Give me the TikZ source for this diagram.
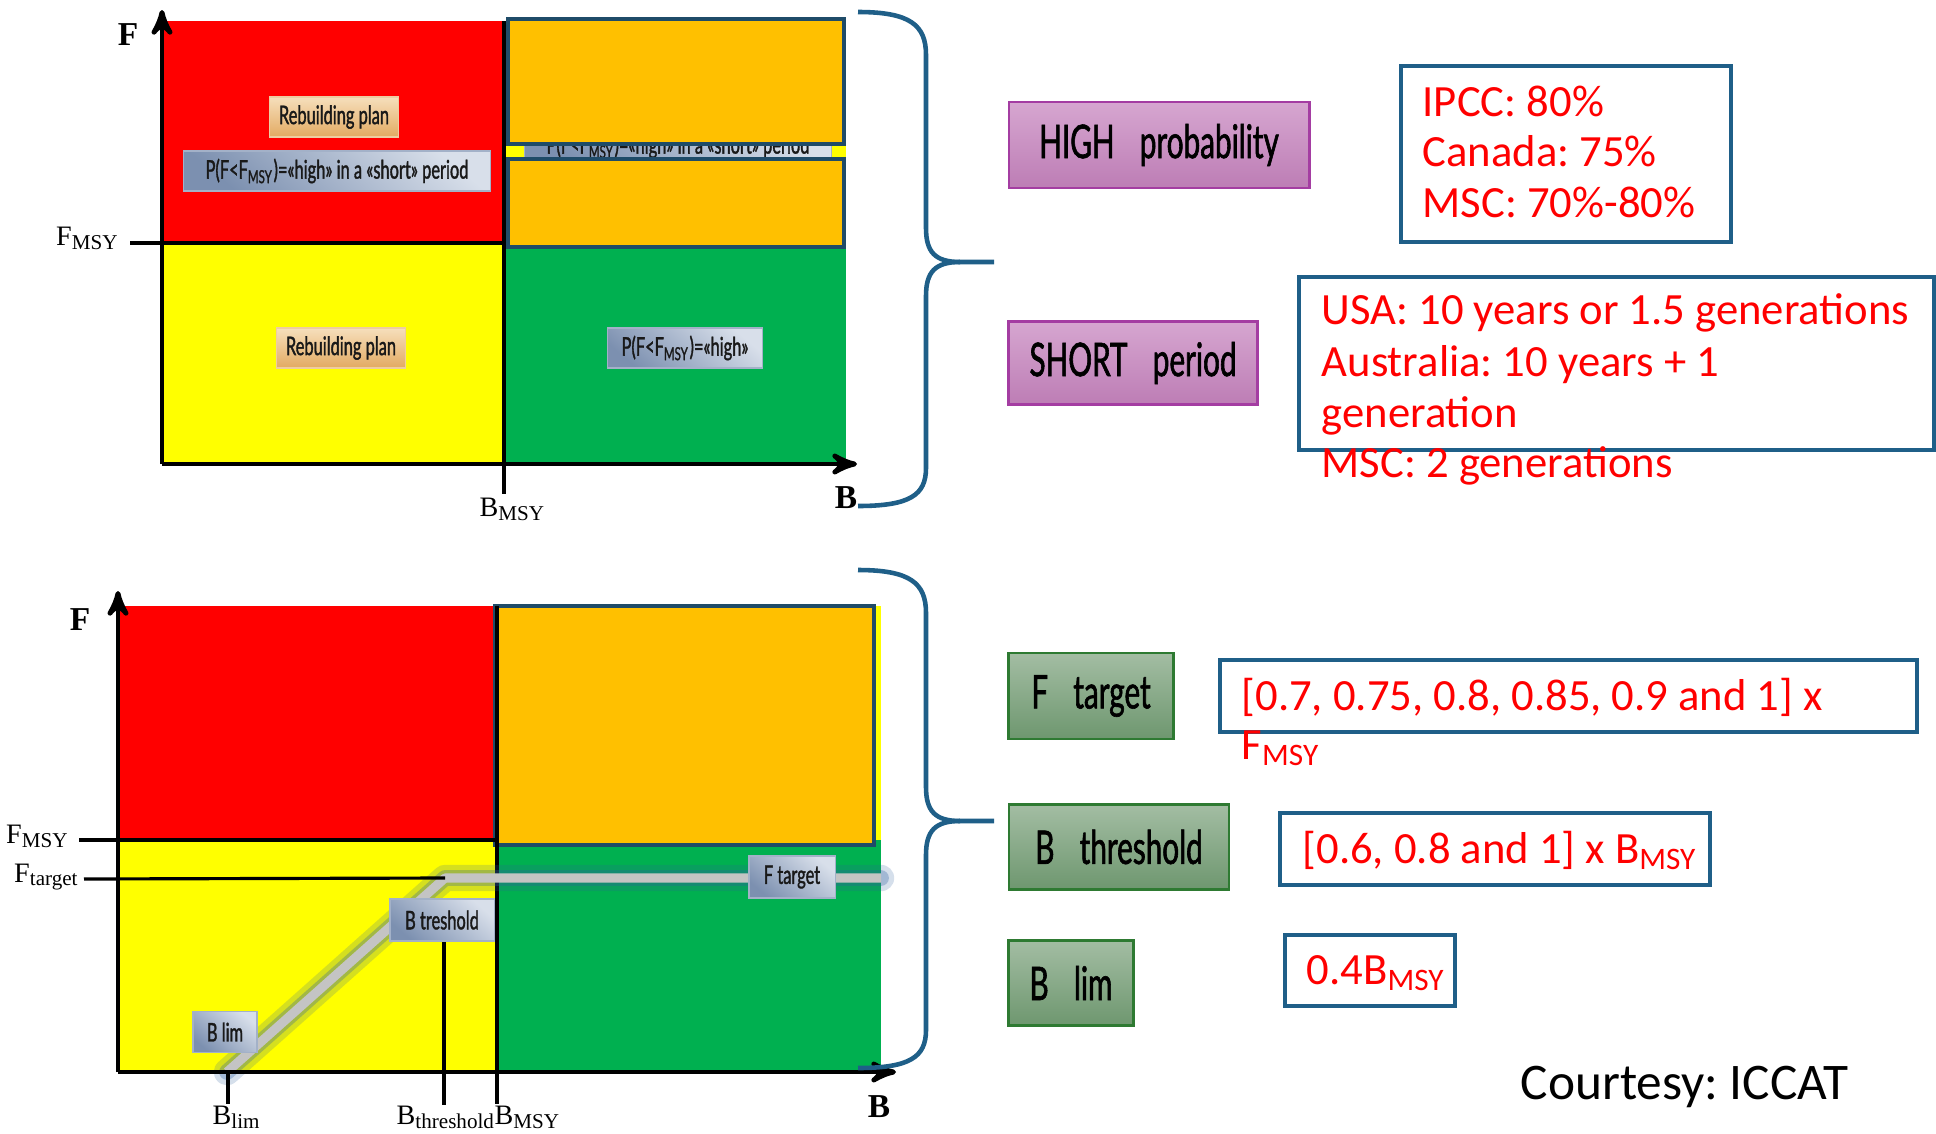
\documentclass[tikz,border=0pt]{standalone}
\usepackage{fontspec}
\usepackage{xcolor}
\usepackage{tikz}
\usetikzlibrary{arrows}
\frenchspacing
\newfontfamily\gillfont[FakeStretch=0.64,FakeBold=1.3]{Lato}
\newfontfamily\valfont{Carlito}
\newfontfamily\axfont{Liberation Serif}
\definecolor{zred}{HTML}{FF0000}
\definecolor{zyellow}{HTML}{FFFF00}
\definecolor{zgreen}{HTML}{00B050}
\definecolor{zorange}{HTML}{FFC000}
\definecolor{boxblue}{HTML}{1F5F88}
\definecolor{coverblue}{HTML}{1F4B68}
\definecolor{purpletop}{HTML}{D6A6D0}
\definecolor{purplebot}{HTML}{BD7DB5}
\definecolor{purpleline}{HTML}{A43DA2}
\definecolor{greentop}{HTML}{A3BDA3}
\definecolor{greenbot}{HTML}{6E976F}
\definecolor{greenline}{HTML}{2E7A32}
\definecolor{tanbot}{HTML}{E2AA62}
\definecolor{tantop}{HTML}{F6DFBC}
\definecolor{slatedark}{HTML}{7C90B0}
\definecolor{slatelight}{HTML}{D8DFEA}
\definecolor{hcrgrey}{HTML}{C4C4C4}
\definecolor{glowblue}{HTML}{2F5F9F}

\begin{document}
\begin{tikzpicture}[x=0.01cm,y=-0.01cm,
  axis/.style={line width=1.4pt,->,>=stealth'},
  refline/.style={line width=0.9pt},
  cover/.style={fill=zorange,draw=coverblue,line width=0.9pt},
  tanlab/.style={top color=tantop,bottom color=tanbot,draw=tanbot!60,line width=0.3pt,inner sep=0pt,font=\gillfont\fontsize{7.3}{8}\selectfont,text=black!90},
  slatelab/.style={top color=slatelight,bottom color=slatedark,shading angle=-40,draw=slatedark!70,line width=0.3pt,inner sep=0pt,font=\gillfont\fontsize{7.3}{8}\selectfont,text=black!90},
  highlab/.style={top color=purpletop,bottom color=purplebot,draw=purpleline,line width=0.8pt,inner sep=0pt,font=\gillfont\fontsize{13.2}{15}\selectfont},
  reflab/.style={top color=greentop,bottom color=greenbot,draw=greenline,line width=0.8pt,inner sep=0pt,font=\gillfont\fontsize{13.2}{15}\selectfont},
  valbox/.style={draw=boxblue,line width=1pt},
  valtext/.style={anchor=base west,inner sep=0pt,text=red,font=\valfont\fontsize{12.7}{14}\selectfont},
  axlab/.style={inner sep=0pt,font=\axfont\bfseries\fontsize{9.5}{11}\selectfont},
  sublab/.style={inner sep=0pt,font=\axfont\fontsize{8}{9}\selectfont},
  brace/.style={draw=boxblue,line width=1.3pt}
]
\useasboundingbox (0,0) rectangle (1936,1133);
\fill[white] (0,0) rectangle (1936,1133);

\fill[zred]    (162,21)  rectangle (504,243);
\fill[zyellow] (162,243) rectangle (504,464);
\fill[zgreen]  (504,243) rectangle (846,464);
\fill[zyellow] (504,21)  rectangle (846,243);
\draw[refline] (130,243) -- (504,243);
\draw[refline] (504,21) -- (504,494);
\draw[axis] (162,464) -- (162,10);
\draw[axis] (162,464) -- (857,464);
\node[axlab, anchor=base] (F1) at (128,45) {F};
\node[axlab, anchor=base] (B1) at (846,508) {B};
\node[sublab, anchor=base east] (Fmsy1) at (120,245) {F\textsubscript{MSY}};
\node[sublab, anchor=base west] (Bmsy1) at (479,516) {B\textsubscript{MSY}};
\node[tanlab, minimum width=1.29cm, minimum height=0.40cm] (Reb1) at (334,117) {Rebuilding plan};
\node[slatelab, minimum width=3.06cm, minimum height=0.40cm] (PShort1) at (337,171) {P(F<F\textsubscript{MSY})=«high» in a «short» period};
\node[tanlab, minimum width=1.29cm, minimum height=0.40cm] (Reb2) at (341,348) {Rebuilding plan};
\node[slatelab, minimum width=1.55cm, minimum height=0.40cm] (PHigh) at (685,348) {P(F<F\textsubscript{MSY})=«high»};
\node[slatelab, minimum width=3.07cm, minimum height=0.40cm] (PShort2) at (678,146) {P(F<F\textsubscript{MSY})=«high» in a «short» period};
\draw[cover] (508,19) rectangle (844,144);
\draw[cover] (508,159) rectangle (844,247);

\fill[zred]    (118,606) rectangle (497,840);
\fill[zyellow] (118,840) rectangle (497,1072);
\fill[zgreen]  (497,840) rectangle (881,1072);
\fill[zyellow] (497,606) rectangle (881,840);
\draw[cover] (495,606) rectangle (874,845);
\draw[refline] (79,840) -- (497,840);
\draw[refline] (497,606) -- (497,1104);
\coordinate (Blimpt) at (227,1072);
\coordinate (Bthrpt) at (445,878);
\coordinate (Fend) at (881,878);
\draw[glowblue, opacity=0.2, line width=7.5pt, line cap=round, line join=round] (Blimpt) -- (Bthrpt) -- (Fend);
\draw[glowblue, opacity=0.3, line width=4.5pt, line cap=round, line join=round] (Blimpt) -- (Bthrpt) -- (Fend);
\draw[hcrgrey, line width=2.6pt, line join=round] (Blimpt) -- (Bthrpt) -- (Fend);
\draw[refline] (84,879) -- (Bthrpt);
\draw[refline] (228,1072) -- (228,1104);
\draw[refline] (444,940) -- (444,1105);
\draw[axis] (118,1072) -- (118,591);
\draw[axis] (118,1072) -- (896,1072);
\node[axlab, anchor=base] (F2) at (80,630) {F};
\node[axlab, anchor=base] (B2) at (879,1117) {B};
\node[sublab, anchor=base east] (Fmsy2) at (70,843) {F\textsubscript{MSY}};
\node[sublab, anchor=base east] (Ftar2) at (80,882) {F\textsubscript{target}};
\node[sublab, anchor=base west] (Blim2) at (212,1124) {B\textsubscript{lim}};
\node[sublab, anchor=base west] (Bthr2) at (396,1124) {B\textsubscript{threshold}};
\node[sublab, anchor=base west] (Bmsy2) at (494,1124) {B\textsubscript{MSY}};
\node[slatelab, minimum width=0.86cm, minimum height=0.42cm] (FTarLab) at (792,877) {F target};
\node[slatelab, minimum width=1.04cm, minimum height=0.42cm] (BTreLab) at (442,920) {B treshold};
\node[slatelab, minimum width=0.64cm, minimum height=0.41cm] (BLimLab) at (225,1032) {B lim};

\draw[brace] (858,12) .. controls (910,12) and (926,25) .. (926,55) -- (926,228) .. controls (926,252) and (935,262) .. (960,262) -- (994,262);
\draw[brace] (960,262) .. controls (935,262) and (926,272) .. (926,296) -- (926,468) .. controls (926,495) and (910,506) .. (858,506);
\draw[brace] (858,570) .. controls (910,570) and (926,583) .. (926,613) -- (926,787) .. controls (926,811) and (935,821) .. (960,821) -- (994,821);
\draw[brace] (960,821) .. controls (935,821) and (926,831) .. (926,855) -- (926,1030) .. controls (926,1057) and (910,1068) .. (858,1068);

\node[highlab, minimum width=3.00cm, minimum height=0.86cm] (High) at (1159,145) {HIGH\hspace{5pt} probability};
\node[highlab, minimum width=2.49cm, minimum height=0.83cm] (Short) at (1133,363) {SHORT\hspace{5pt} period};
\node[reflab, minimum width=1.65cm, minimum height=0.86cm] (FTar) at (1091,696) {F\hspace{5pt} target};
\node[reflab, minimum width=2.20cm, minimum height=0.85cm] (BThr) at (1119,847) {B\hspace{5pt} threshold};
\node[reflab, minimum width=1.25cm, minimum height=0.85cm] (BLim) at (1071,983) {B\hspace{5pt} lim};

\draw[valbox] (1401,66) rectangle (1731,242);
\node[valtext] (Ipcc) at (1422,116) {IPCC: 80\%};
\node[valtext] (Canada) at (1422,166) {Canada: 75\%};
\node[valtext] (Msc1) at (1422,217) {MSC: 70\%-80\%};
\draw[valbox] (1299,277) rectangle (1934,450);
\node[valtext] (Usa) at (1321,324) {USA: 10 years or 1.5 generations};
\node[valtext] (Aus) at (1321,376) {Australia: 10 years + 1};
\node[valtext] (Gen) at (1321,427) {generation};
\node[valtext] (Msc2) at (1321,477) {MSC: 2 generations};
\draw[valbox] (1220,660) rectangle (1917,732);
\node[valtext] (FVal) at (1241,710) {[0.7, 0.75, 0.8, 0.85, 0.9 and 1] x};
\node[valtext] (FValB) at (1241,759) {F\textsubscript{MSY}};
\draw[valbox] (1280,813) rectangle (1710,885);
\node[valtext] (BVal) at (1302,863) {[0.6, 0.8 and 1] x B\textsubscript{MSY}};
\draw[valbox] (1285,935) rectangle (1455,1006);
\node[valtext] (LVal) at (1306,984) {0.4B\textsubscript{MSY}};
\node[anchor=base west, inner sep=0pt, font=\valfont\fontsize{14.6}{16}\selectfont] (Court) at (1520,1099) {Courtesy: ICCAT};
\end{tikzpicture}
\end{document}
